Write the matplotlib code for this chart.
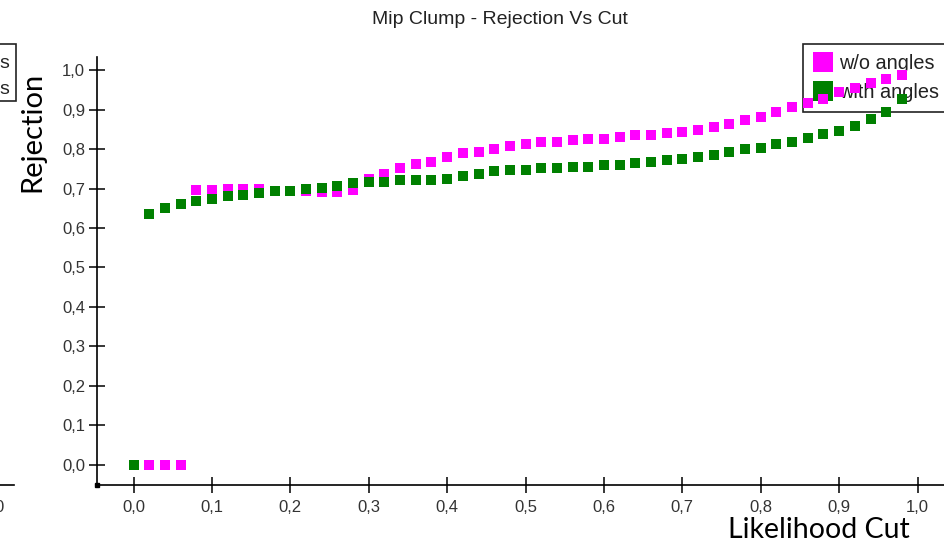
import matplotlib
matplotlib.use("Agg")
import matplotlib.pyplot as plt
from matplotlib.lines import Line2D
from matplotlib.patches import Rectangle
from matplotlib.ticker import FuncFormatter, MultipleLocator

# ---- data ----
cut_wo = [0.00, 0.02, 0.04, 0.06, 0.08, 0.10, 0.12, 0.14, 0.16, 0.18, 0.20, 0.22,
          0.24, 0.26, 0.28, 0.30, 0.32, 0.34, 0.36, 0.38, 0.40, 0.42, 0.44, 0.46,
          0.48, 0.50, 0.52, 0.54, 0.56, 0.58, 0.60, 0.62, 0.64, 0.66, 0.68, 0.70,
          0.72, 0.74, 0.76, 0.78, 0.80, 0.82, 0.84, 0.86, 0.88, 0.90, 0.92, 0.94,
          0.96, 0.98]
rej_wo = [0.000, 0.000, 0.000, 0.000, 0.696, 0.696, 0.699, 0.698, 0.700, 0.695,
          0.695, 0.694, 0.691, 0.692, 0.697, 0.724, 0.737, 0.752, 0.763, 0.767,
          0.779, 0.790, 0.794, 0.801, 0.809, 0.813, 0.819, 0.819, 0.824, 0.827,
          0.827, 0.832, 0.835, 0.835, 0.840, 0.843, 0.849, 0.857, 0.864, 0.873,
          0.883, 0.895, 0.906, 0.918, 0.927, 0.946, 0.956, 0.967, 0.978, 0.989]

cut_with = [0.00, 0.02, 0.04, 0.06, 0.08, 0.10, 0.12, 0.14, 0.16, 0.18, 0.20, 0.22,
            0.24, 0.26, 0.28, 0.30, 0.32, 0.34, 0.36, 0.38, 0.40, 0.42, 0.44, 0.46,
            0.48, 0.50, 0.52, 0.54, 0.56, 0.58, 0.60, 0.62, 0.64, 0.66, 0.68, 0.70,
            0.72, 0.74, 0.76, 0.78, 0.80, 0.82, 0.84, 0.86, 0.88, 0.90, 0.92, 0.94,
            0.96, 0.98]
rej_with = [0.000, 0.636, 0.650, 0.662, 0.669, 0.673, 0.681, 0.684, 0.688, 0.695,
            0.695, 0.698, 0.702, 0.707, 0.715, 0.718, 0.718, 0.722, 0.722, 0.722,
            0.725, 0.732, 0.737, 0.745, 0.747, 0.747, 0.752, 0.752, 0.756, 0.756,
            0.760, 0.760, 0.764, 0.768, 0.772, 0.775, 0.781, 0.786, 0.794, 0.800,
            0.804, 0.813, 0.819, 0.828, 0.839, 0.846, 0.860, 0.876, 0.895, 0.928]

series_names = ["w/o angles", "with angles"]
title = "Mip Clump - Rejection Vs Cut"
xlabel = "Likelihood Cut"
ylabel = "Rejection"

# ---- figure ----
W, H = 945, 545
fig = plt.figure(figsize=(W / 100, H / 100), dpi=100)
plt.rcParams['font.family'] = ['Liberation Sans', 'DejaVu Sans']


def fx(px):
    return px / W


def fy(py):
    return 1 - py / H


ax = fig.add_axes([fx(97), fy(485), 1 - fx(97), fy(57) - fy(485)])
ax.set_xlim(-0.0466, 1.035)
ax.set_ylim(-0.052, 1.034)

ax.plot(cut_wo, rej_wo, linestyle='none', marker='s', markersize=7,
        color='#ff00ff', markeredgewidth=0, label=series_names[0],
        clip_on=False, zorder=3)
ax.plot(cut_with, rej_with, linestyle='none', marker='s', markersize=7,
        color='#008000', markeredgewidth=0, label=series_names[1],
        clip_on=False, zorder=3)

for s in ['top', 'right']:
    ax.spines[s].set_visible(False)
for s in ['left', 'bottom']:
    ax.spines[s].set_linewidth(1.2)
    ax.spines[s].set_color('black')

ax.xaxis.set_major_locator(MultipleLocator(0.1))
ax.yaxis.set_major_locator(MultipleLocator(0.1))
fmt = FuncFormatter(lambda v, p: f"{v:.1f}".replace('.', ','))
ax.xaxis.set_major_formatter(fmt)
ax.yaxis.set_major_formatter(fmt)
ax.tick_params(axis='both', direction='inout', length=11, width=1.1,
               labelsize=12, labelcolor='#333333', color='black')
ax.tick_params(axis='x', pad=5)
ax.tick_params(axis='y', pad=3)

# origin dot
ax.plot([ax.get_xlim()[0]], [ax.get_ylim()[0]], marker='s', markersize=3,
        color='black', clip_on=False)

fig.text(fx(500), fy(19), title, fontsize=14, color='#222222',
         ha='center', va='center')

leg = ax.legend(loc='upper left',
                bbox_to_anchor=(fx(803), fy(111), fx(160), fy(44) - fy(111)),
                bbox_transform=fig.transFigure, borderaxespad=0, mode='expand',
                fancybox=False, framealpha=1, edgecolor='#222222',
                markerscale=2.0, fontsize=14.3, handletextpad=0.3,
                borderpad=0.5, labelspacing=0.5, handlelength=1.0)
leg.get_frame().set_linewidth(1.2)
leg.set_zorder(1)
for t in leg.get_texts():
    t.set_color('#222222')

fig.text(fx(32), fy(132), ylabel, rotation=90, fontsize=21,
         family=['Lato', 'DejaVu Sans'], ha='center', va='center')
fig.text(fx(728), fy(538), xlabel, fontsize=20.5,
         family=['Lato', 'DejaVu Sans'], ha='left', va='baseline')

# fragments of the neighbouring chart at the left edge
fig.patches.append(Rectangle((fx(-60), fy(101)), fx(76), fy(44) - fy(101),
                             transform=fig.transFigure, fill=False,
                             edgecolor='#222222', linewidth=1.2))
fig.text(fx(9), fy(63), "s", fontsize=14, ha='right', va='center', color='#222222')
fig.text(fx(9), fy(90), "s", fontsize=14, ha='right', va='center', color='#222222')
fig.lines.append(Line2D([0, fx(14)], [fy(485), fy(485)], transform=fig.transFigure,
                        color='black', linewidth=1.2))
fig.text(fx(4), fy(508), "0", fontsize=12, ha='right', va='center', color='#333333')

fig.savefig("out.png", dpi=100)
